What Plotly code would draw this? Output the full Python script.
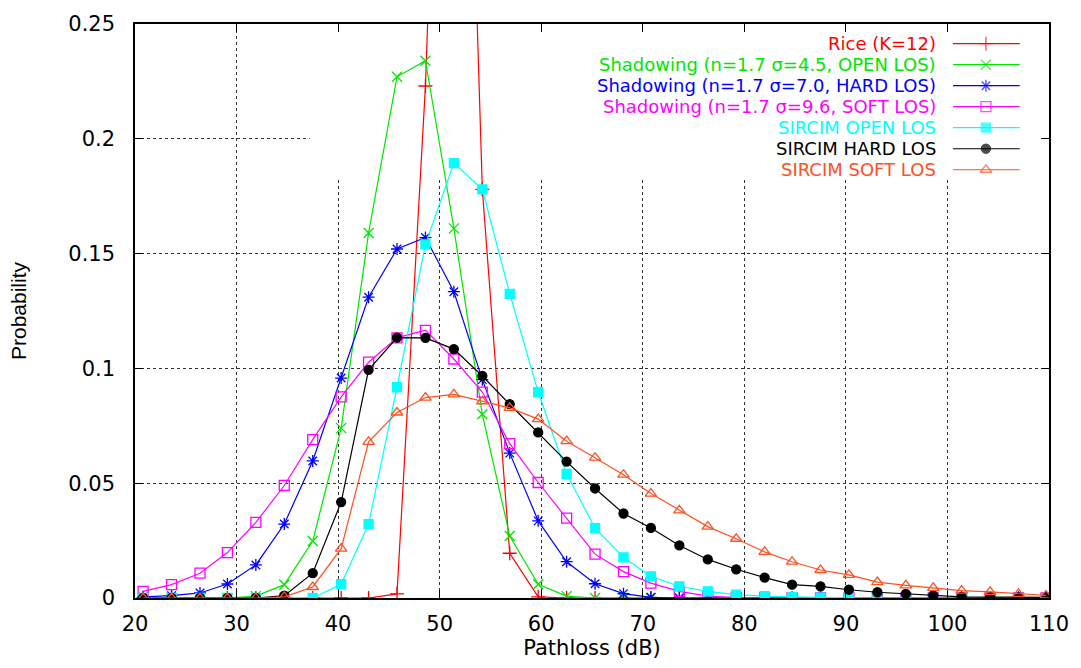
import plotly.graph_objects as go

# Pathloss bin centres (dB)
pathloss_db = [20.8, 23.6, 26.4, 29.1, 31.9, 34.7, 37.5, 40.3, 43.0, 45.8, 48.6,
               51.4, 54.2, 56.9, 59.7, 62.5, 65.3, 68.1, 70.8, 73.6, 76.4, 79.2,
               82.0, 84.7, 87.5, 90.3, 93.1, 95.9, 98.6, 101.4, 104.2, 107.0, 109.7]

rice_k12 = [0, 0, 0, 0, 0, 0, 0, 0, 0, 0.0018, 0.223,
            0.58, 0.178, 0.0195, 0.0005, 0, 0, 0, 0, 0, 0, 0,
            0, 0, 0, 0, 0, 0, 0, 0, 0, 0, 0]

shadow_open = [0, 0, 0, 0, 0.0008, 0.0058, 0.0248, 0.074, 0.159, 0.227, 0.234,
               0.161, 0.080, 0.027, 0.006, 0.0008, 0, 0, 0, 0, 0, 0,
               0, 0, 0, 0, 0, 0, 0, 0, 0, 0, 0]

shadow_hard = [0.0005, 0.001, 0.0022, 0.0061, 0.0144, 0.0322, 0.0597, 0.0958, 0.131, 0.152, 0.157,
               0.1334, 0.0951, 0.0631, 0.0336, 0.0158, 0.0062, 0.0019, 0.0003, 0, 0, 0,
               0, 0, 0, 0, 0, 0, 0, 0, 0, 0, 0]

shadow_soft = [0.0029, 0.0058, 0.0108, 0.0198, 0.0329, 0.049, 0.069, 0.0876, 0.1027, 0.1133, 0.1166,
               0.1041, 0.0897, 0.0672, 0.0503, 0.0348, 0.0191, 0.0115, 0.0065, 0.0029, 0.0008, 0.0002,
               0, 0, 0, 0, 0, 0, 0, 0, 0, 0, 0]

sircim_open = [0, 0, 0, 0, 0, 0, 0, 0.006, 0.0322, 0.0918, 0.154,
               0.1894, 0.178, 0.1325, 0.0897, 0.0541, 0.0304, 0.0177, 0.0094, 0.0051, 0.0029, 0.0015,
               0.0008, 0.0005, 0.0002, 0.0001, 0, 0, 0, 0, 0, 0, 0]

sircim_hard = [0, 0, 0, 0, 0, 0.001, 0.0108, 0.0418, 0.0994, 0.1134, 0.1133,
               0.1084, 0.0967, 0.0844, 0.0721, 0.0594, 0.0477, 0.0368, 0.0305, 0.0229, 0.0168, 0.0125,
               0.0089, 0.0058, 0.0051, 0.0036, 0.0025, 0.0018, 0.0011, 0.0005, 0.0004, 0.0003, 0.0003]

sircim_soft = [0, 0, 0, 0, 0, 0.0005, 0.0048, 0.0215, 0.068, 0.0808, 0.0873,
               0.0887, 0.0857, 0.0828, 0.0779, 0.0683, 0.0611, 0.0537, 0.0455, 0.0382, 0.0311, 0.0258,
               0.0201, 0.0158, 0.0122, 0.0101, 0.0069, 0.0055, 0.0044, 0.0032, 0.0027, 0.0018, 0.0011]

series_names = [
    "Rice (K=12)",
    "Shadowing (n=1.7 σ=4.5, OPEN LOS)",
    "Shadowing (n=1.7 σ=7.0, HARD LOS)",
    "Shadowing (n=1.7 σ=9.6, SOFT LOS)",
    "SIRCIM OPEN LOS",
    "SIRCIM HARD LOS",
    "SIRCIM SOFT LOS",
]
series_values = [rice_k12, shadow_open, shadow_hard, shadow_soft,
                 sircim_open, sircim_hard, sircim_soft]

x_ticks = [20, 30, 40, 50, 60, 70, 80, 90, 100, 110]

# Styles: colour, marker symbol, marker size
styles = [
    ("#ff0000", "cross-thin-open", 10),
    ("#00e600", "x-thin-open", 10),
    ("#0000ff", "asterisk-open", 10),
    ("#ff00ff", "square-open", 10),
    ("#00ffff", "square", 9),
    ("#000000", "circle", 9),
    ("#ff5020", "triangle-up-open", 10),
]

TICK_FONT = dict(family="DejaVu Sans", size=21, color="#000000")
KEY_FONT_SIZE = 18

fig = go.Figure()

for name, vals, (color, sym, size) in zip(series_names, series_values, styles):
    fig.add_trace(go.Scatter(
        x=pathloss_db, y=vals, name=name, mode="lines+markers",
        line=dict(color=color, width=1.2),
        marker=dict(symbol=sym, size=size, color=color,
                    line=dict(color=color, width=1.3)),
        showlegend=False, cliponaxis=True,
    ))

# Key drawn inside the plot: right-aligned coloured text, sample line + marker
key_text_right = 0.877
key_line_x = [0.895, 0.931, 0.968]
key_top = 0.9657
key_step = 0.0366

annotations = []
for i, (name, (color, sym, size)) in enumerate(zip(series_names, styles)):
    yk = key_top - i * key_step
    annotations.append(dict(
        x=key_text_right, y=yk, xref="paper", yref="paper",
        text=name, showarrow=False, xanchor="right", yanchor="middle",
        borderpad=0,
        font=dict(family="DejaVu Sans", size=KEY_FONT_SIZE, color=color),
    ))
    fig.add_trace(go.Scatter(
        x=key_line_x, y=[yk, yk, yk], xaxis="x2", yaxis="y2",
        mode="lines+markers", showlegend=False, hoverinfo="skip",
        line=dict(color=color, width=1.2),
        marker=dict(symbol=sym, size=[0, size, 0], color=color,
                    line=dict(color=color, width=1.3)),
    ))

axis_common = dict(
    showline=True, linecolor="#000000", linewidth=1.5, mirror="ticks",
    ticks="inside", ticklen=8, tickcolor="#000000", tickwidth=1,
    showgrid=True, gridcolor="#333333", gridwidth=1, griddash="dot",
    zeroline=False, tickfont=TICK_FONT,
)

fig.update_layout(
    width=1081, height=668,
    margin=dict(l=135, r=30, t=15, b=70),
    paper_bgcolor="#ffffff", plot_bgcolor="#ffffff",
    showlegend=False,
    xaxis=dict(range=[20, 110], tickvals=x_ticks, ticklabelstandoff=6,
               title=dict(text="Pathloss (dB)", font=TICK_FONT, standoff=4),
               **axis_common),
    yaxis=dict(range=[0, 0.25], dtick=0.05, tick0=0, ticklabelstandoff=14,
               title=dict(text="Probability",
                          font=dict(family="Liberation Sans", size=21, color="#000000"),
                          standoff=36),
               **axis_common),
    xaxis2=dict(overlaying="x", anchor="y2", range=[0, 1], visible=False),
    yaxis2=dict(overlaying="y", anchor="x2", range=[0, 1], visible=False),
    annotations=annotations,
    shapes=[dict(type="rect", xref="x", yref="y", x0=37.2, x1=110, y0=0.1825, y1=0.25,
                 fillcolor="#ffffff", line=dict(width=0), layer="between")],
)

fig.write_html("out.html")
